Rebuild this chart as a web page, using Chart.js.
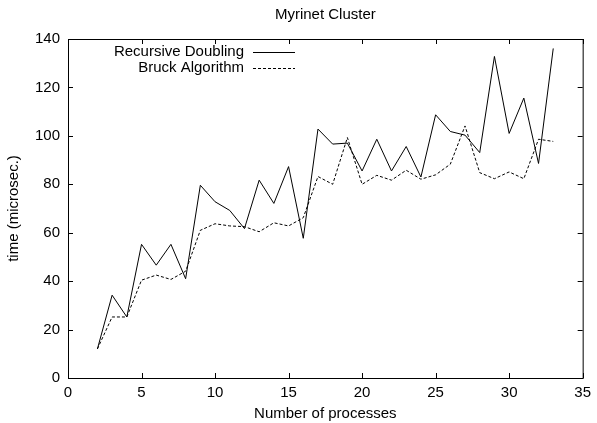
<html>
  <head>
    <title>Myrinet Cluster</title>
    <script src="https://cdn.jsdelivr.net/npm/chart.js"></script>
    <style>
      body { margin: 0; background: #fff; }
      #wrap { width: 597px; height: 423px; }
    </style>
  </head>
  <body>
    <div id="wrap">
      <canvas id="timeChart"></canvas>
    </div>

    <script>
      // number of processes
      const procs = [2, 3, 4, 5, 6, 7, 8, 9, 10, 11, 12, 13, 14, 15, 16, 17,
                     18, 19, 20, 21, 22, 23, 24, 25, 26, 27, 28, 29, 30, 31, 32, 33];
      const recursiveDoubling = [12, 34.2, 25.2, 55.2, 46.6, 55.2, 41, 79.6, 72.8, 69.2, 61.7, 81.7, 72.1, 87.3, 57.7, 102.8,
                                 96.6, 97, 85.5, 98.6, 85.5, 95.6, 83, 108.7, 101.8, 100.3, 93.1, 132.8, 101, 115.6, 88.6, 136.1];
      const bruckAlgorithm = [12, 25.2, 25.2, 40.4, 42.5, 40.7, 44.1, 61, 63.7, 62.8, 62.5, 60.4, 64.1, 62.8, 66.2, 83.2,
                              80, 99.3, 80, 83.7, 81.7, 85.8, 82.1, 83.9, 88.3, 104.1, 84.8, 82.3, 85.1, 82.3, 98.6, 97.7];
      const xTicks = [0, 5, 10, 15, 20, 25, 30, 35];
      const yTicks = [0, 20, 40, 60, 80, 100, 120, 140];

      const FONT = 'Liberation Sans, Arial, Helvetica, sans-serif';

      const toPoints = (ys) => procs.map((p, i) => ({ x: p, y: ys[i] }));

      // gnuplot style: box, inward ticks on all sides, key with samples on the right
      const gnuplotFrame = {
        id: 'gnuplotFrame',
        afterDatasetsDraw(chart) {
          const c = chart.ctx;
          const a = chart.chartArea;
          const xs = chart.scales.x, ys = chart.scales.y;
          c.save();
          c.strokeStyle = '#000';
          c.lineWidth = 1;
          c.setLineDash([]);
          c.strokeRect(a.left + 0.5, a.top + 0.5, a.right - a.left, a.bottom - a.top);
          c.beginPath();
          xTicks.forEach(v => {
            const px = Math.round(xs.getPixelForValue(v)) + 0.5;
            c.moveTo(px, a.bottom); c.lineTo(px, a.bottom - 5);
            c.moveTo(px, a.top); c.lineTo(px, a.top + 5);
          });
          yTicks.forEach(v => {
            const py = Math.round(ys.getPixelForValue(v)) + 0.5;
            c.moveTo(a.left, py); c.lineTo(a.left + 5, py);
            c.moveTo(a.right, py); c.lineTo(a.right - 5, py);
          });
          c.stroke();

          // key
          c.font = '15px ' + FONT;
          c.fillStyle = '#000';
          c.textAlign = 'right';
          c.textBaseline = 'middle';
          chart.data.datasets.forEach((ds, i) => {
            const y = a.top + 13 + i * 16;
            c.fillText(ds.label, a.left + 176, y);
            c.beginPath();
            c.setLineDash(ds.borderDash || []);
            c.moveTo(a.left + 185, y + 0.5);
            c.lineTo(a.left + 227, y + 0.5);
            c.stroke();
          });
          c.restore();
        }
      };

      new Chart(document.getElementById('timeChart'), {
        type: 'line',
        data: {
          datasets: [{
            label: 'Recursive Doubling',
            data: toPoints(recursiveDoubling),
            borderColor: '#000',
            borderWidth: 1,
            pointRadius: 0,
            tension: 0
          }, {
            label: 'Bruck Algorithm',
            data: toPoints(bruckAlgorithm),
            borderColor: '#000',
            borderWidth: 1,
            borderDash: [3, 2],
            pointRadius: 0,
            tension: 0
          }]
        },
        options: {
          responsive: true,
          maintainAspectRatio: false,
          animation: false,
          layout: { padding: { left: 5, right: 10, top: 0, bottom: 0 } },
          plugins: {
            legend: { display: false },
            tooltip: { enabled: false },
            title: {
              display: true,
              text: 'Myrinet Cluster',
              fullSize: false,
              color: '#000',
              font: { family: FONT, size: 15, weight: 'normal' },
              padding: { top: 6, bottom: 15 }
            }
          },
          scales: {
            x: {
              type: 'linear',
              min: 0,
              max: 35,
              afterBuildTicks: (s) => { s.ticks = xTicks.map(v => ({ value: v })); },
              afterFit: (s) => { s.height = 45; },
              grid: { display: false, drawTicks: false },
              border: { display: false },
              ticks: { color: '#000', padding: 6, font: { family: FONT, size: 15 }, maxRotation: 0 },
              title: { display: true, text: 'Number of processes', color: '#000', padding: 0,
                       font: { family: FONT, size: 15 } }
            },
            y: {
              min: 0,
              max: 140,
              afterBuildTicks: (s) => { s.ticks = yTicks.map(v => ({ value: v })); },
              afterFit: (s) => { s.width = 63; },
              grid: { display: false, drawTicks: false },
              border: { display: false },
              ticks: { color: '#000', padding: 8, font: { family: FONT, size: 15 } },
              title: { display: true, text: 'time (microsec.)', color: '#000', padding: 0,
                       font: { family: FONT, size: 15 } }
            }
          }
        },
        plugins: [gnuplotFrame]
      });
    </script>
  </body>
</html>
